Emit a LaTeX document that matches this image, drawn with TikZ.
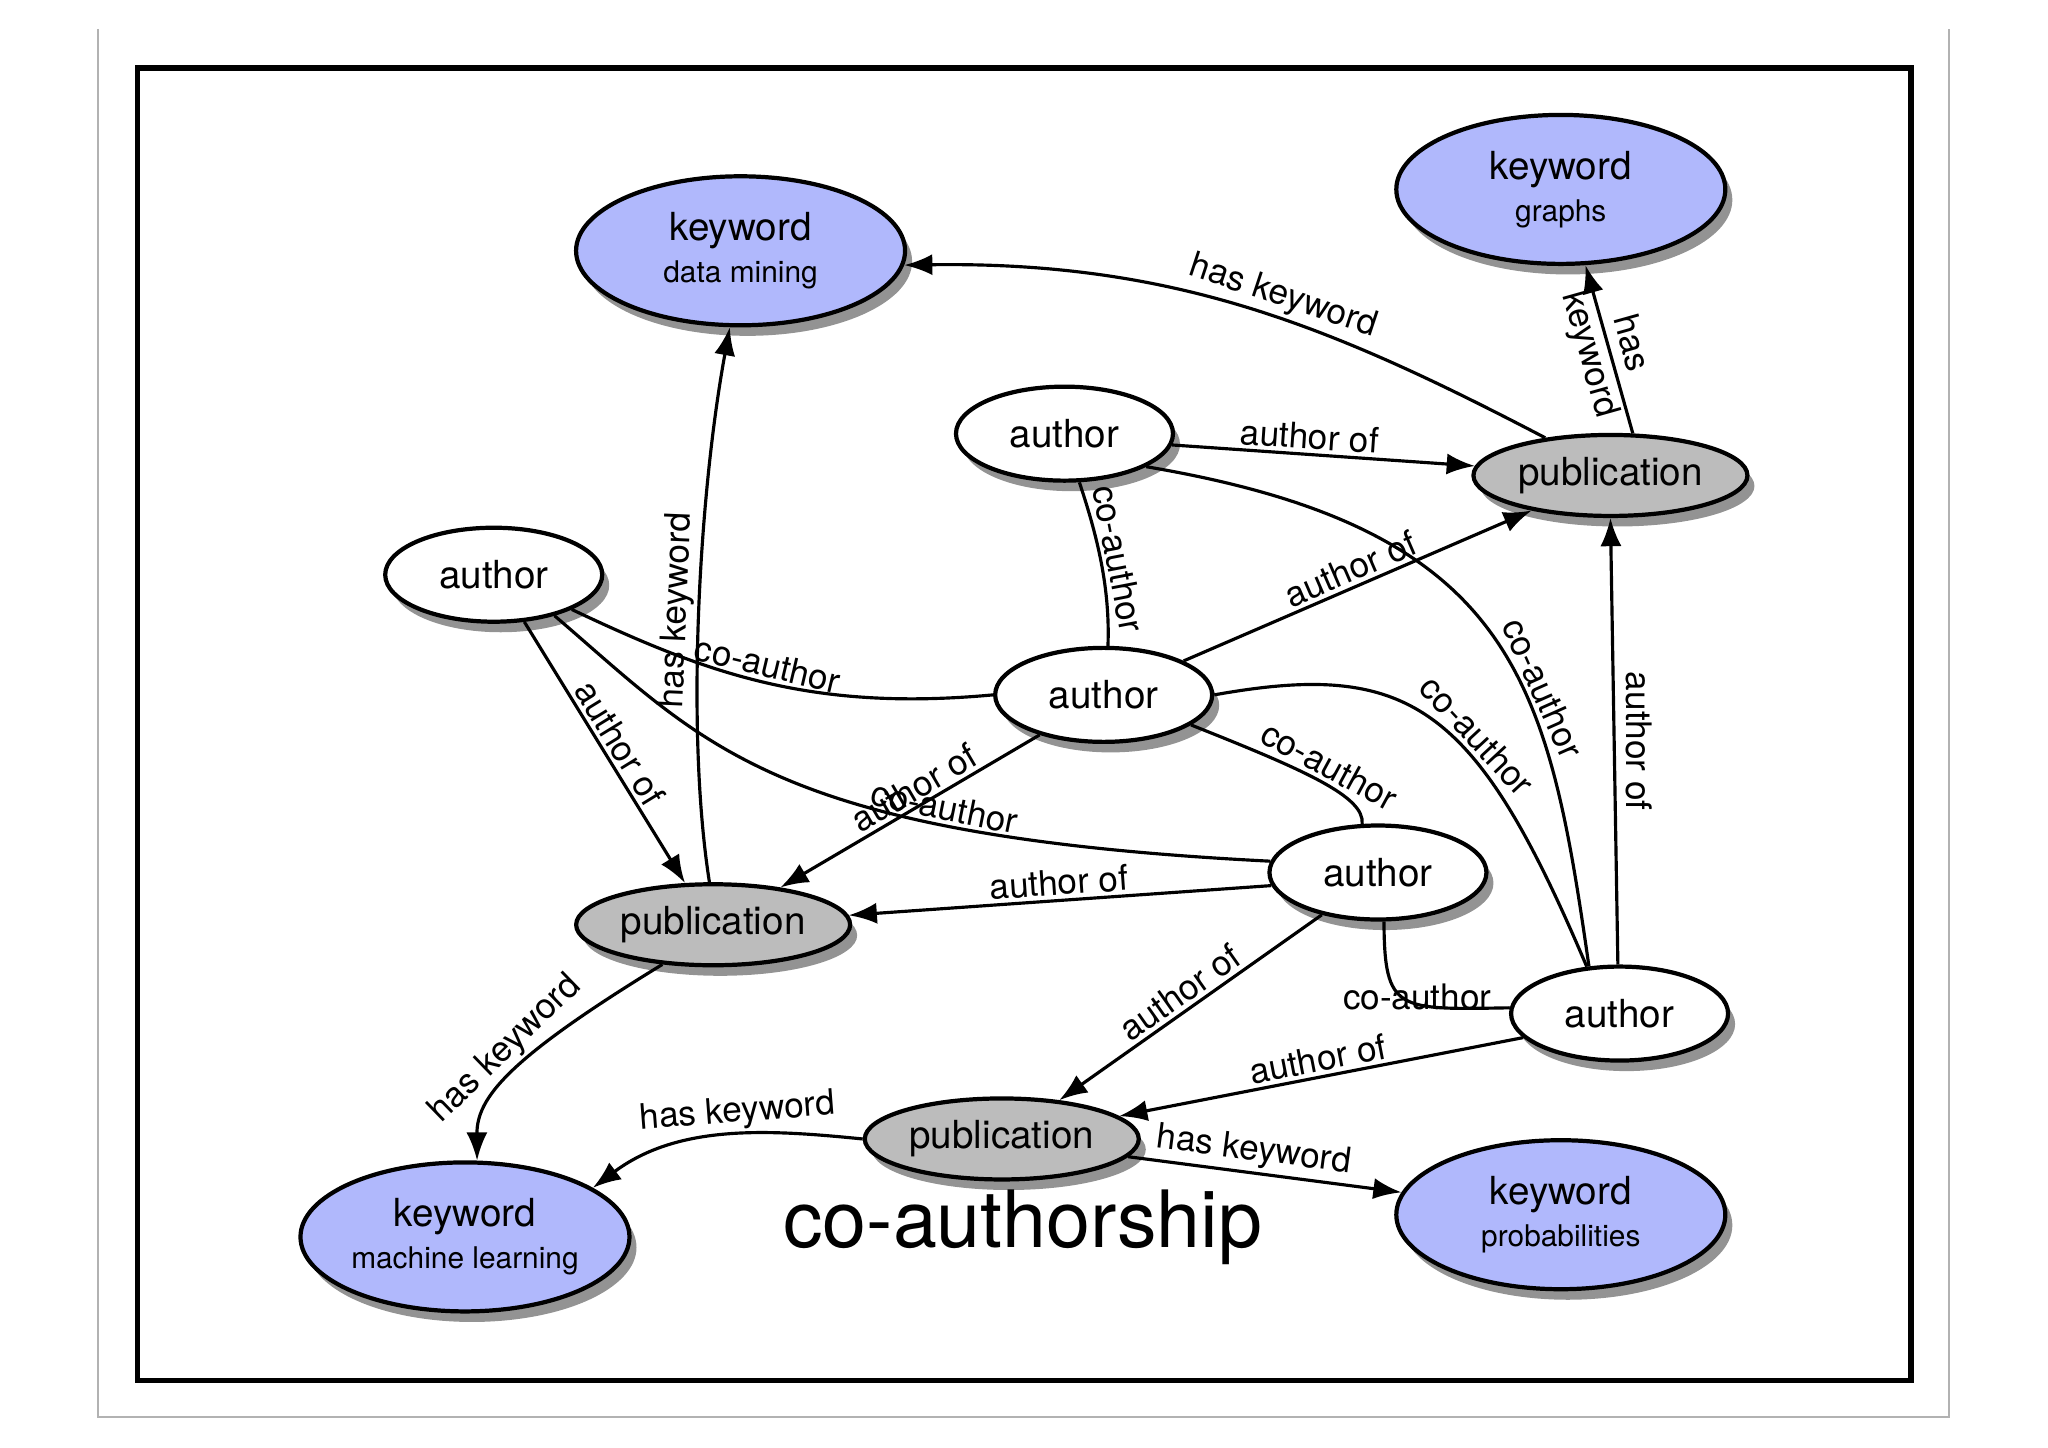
\documentclass[tikz,border=0pt]{standalone}
\usepackage{fontspec}
\setmainfont{TeX Gyre Heros}
\usetikzlibrary{shapes.geometric,shadows,arrows.meta}
\definecolor{kwblue}{RGB}{176,184,252}
\definecolor{pubgray}{RGB}{188,188,188}
\begin{document}
\begin{tikzpicture}[x=0.01306cm,y=-0.01306cm,
  base/.style={ellipse,draw=black,line width=1.2pt,inner sep=0pt,
    drop shadow={shadow xshift=2pt,shadow yshift=-3pt,opacity=0.85}},
  kw/.style={base,fill=kwblue,minimum width=3.29cm,minimum height=1.49cm,align=center,font=\fontsize{11}{13}\selectfont},
  au/.style={base,fill=white,minimum width=2.17cm,minimum height=0.94cm,font=\fontsize{11}{13}\selectfont},
  pub/.style={base,fill=pubgray,minimum width=2.74cm,minimum height=0.81cm,font=\fontsize{11}{13}\selectfont},
  rel/.style={line width=0.9pt},
  arr/.style={rel,-{Latex[length=8pt,width=6pt]}},
  lab/.style={font=\fontsize{10}{12}\selectfont,inner sep=1pt}]
\useasboundingbox (0,0) rectangle (1568,1108);
\draw[gray!60,line width=0.5pt] (75,22) -- (75,1085) -- (1492,1085) -- (1492,22);
\draw[line width=1.5pt] (105,52) rectangle (1463,1057);

\node[kw] (kdm) at (567,192) {keyword\\[-1pt]{\fontsize{8.5}{10}\selectfont data mining}};
\node[kw] (kg) at (1195,145) {keyword\\[-1pt]{\fontsize{8.5}{10}\selectfont graphs}};
\node[kw] (kml) at (356,947) {keyword\\[-1pt]{\fontsize{8.5}{10}\selectfont machine learning}};
\node[kw] (kp) at (1195,930) {keyword\\[-1pt]{\fontsize{8.5}{10}\selectfont probabilities}};
\node[au] (a1) at (815,332) {author};
\node[au] (a2) at (378,440) {author};
\node[au] (a3) at (845,532) {author};
\node[au] (a4) at (1055,668) {author};
\node[au] (a5) at (1240,776) {author};
\node[pub] (p1) at (1233,364) {publication};
\node[pub] (p2) at (546,708) {publication};
\node[pub] (p3) at (767,872) {publication};
\node[font=\fontsize{22.5}{26}\selectfont] (title) at (783,940) {co-authorship};

\draw[arr] (p1.150) .. controls (1020,250) and (900,200) .. (kdm.-5) node[lab,pos=0.45,sloped,above] {has keyword};
\draw[arr] (p1.62) -- (kg.-72) node[lab,midway,sloped,align=center] {has\\keyword};
\draw[arr] (a1.-6) -- (p1.176) node[lab,pos=0.45,sloped,above] {author of};
\draw[rel] (a1.-22) .. controls (1160,405) and (1185,520) .. (a5.123) node[lab,pos=0.62,sloped,above] {co-author};
\draw[rel] (a1.-73) .. controls (840,410) and (850,450) .. (a3.85) node[lab,midway,sloped,above] {co-author};
\draw[arr] (a3.23) -- (p1.204) node[lab,pos=0.5,sloped,above] {author of};
\draw[rel] (a2.-24) .. controls (540,515) and (620,545) .. (a3.180) node[lab,pos=0.5,sloped,above] {co-author};
\draw[arr] (a2.-57) -- (p2.124) node[lab,midway,sloped,above] {author of};
\draw[rel] (a2.-34) .. controls (540,570) and (590,640) .. (a4.174) node[lab,pos=0.72,sloped,above] {co-author};
\draw[arr] (a3.212) -- (p2.29) node[lab,pos=0.45,sloped,above] {author of};
\draw[rel] (a3.-19) .. controls (1000,590) and (1045,610) .. (a4.108) node[lab,pos=0.5,sloped,above] {co-author};
\draw[rel] (a3.0) .. controls (1080,505) and (1130,540) .. (a5.125) node[lab,pos=0.6,sloped,above] {co-author};
\draw[arr] (p2.95) .. controls (525,560) and (535,380) .. (kdm.-98) node[lab,pos=0.5,sloped,above] {has keyword};
\draw[arr] (a4.187) -- (p2.4) node[lab,pos=0.5,sloped,above] {author of};
\draw[arr] (a4.217) -- (p3.34) node[lab,pos=0.5,sloped,above] {author of};
\draw[rel] (a4.-83) .. controls (1060,775) and (1070,773) .. (a5.177) node[lab,pos=0.6,above,yshift=-3pt] {co-author};
\draw[arr] (a5.92) -- (p1.-90) node[lab,pos=0.5,rotate=-90,anchor=south,yshift=2pt] {author of};
\draw[arr] (a5.194) -- (p3.11) node[lab,pos=0.5,sloped,above] {author of};
\draw[arr] (p3.180) .. controls (590,865) and (520,860) .. (kml.21) node[lab,pos=0.45,sloped,above] {has keyword};
\draw[arr] (p3.-8) -- (kp.172) node[lab,pos=0.45,sloped,above] {has keyword};
\draw[arr] (p2.218) .. controls (390,810) and (365,840) .. (kml.81) node[lab,pos=0.45,sloped,above] {has keyword};
\end{tikzpicture}
\end{document}
